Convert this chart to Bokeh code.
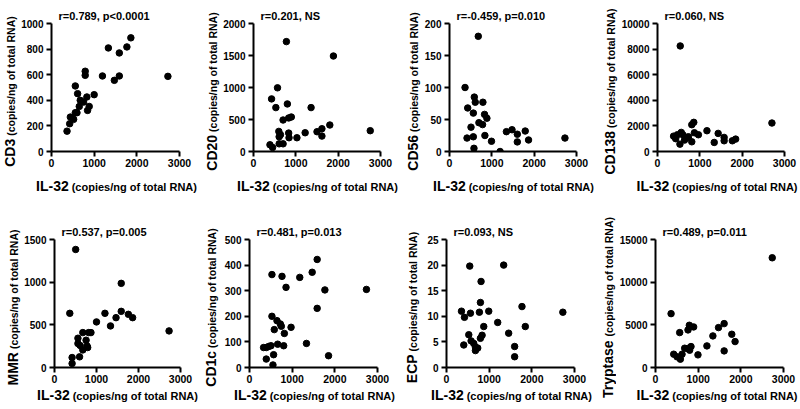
import math
from bokeh.plotting import figure
from bokeh.models import Range1d, FixedTicker
from bokeh.core.properties import value
from bokeh.layouts import column, row
from bokeh.embed import file_html
from bokeh.resources import INLINE

FONT = "Liberation Sans"

# ---------------- data ----------------
x_ticks = [0, 1000, 2000, 3000]
x_big = "IL-32"
unit_text = "(copies/ng of total RNA)"

cd3_x = [364, 426, 442, 519, 558, 597, 558, 612, 674, 651, 752, 790, 790, 829, 845, 884, 1000, 1194, 1333, 1473, 1589, 1589, 1767, 1860, 2728]
cd3_y = [159, 217, 269, 251, 303, 303, 512, 452, 400, 352, 386, 627, 595, 426, 321, 352, 444, 590, 809, 556, 770, 590, 817, 888, 587]

cd20_x = [389, 451, 427, 528, 567, 777, 800, 699, 831, 893, 598, 606, 637, 606, 699, 831, 839, 1026, 1220, 1360, 1500, 1616, 1616, 1803, 1888, 2758]
cd20_y = [105, 63, 822, 686, 995, 1717, 743, 492, 524, 539, 314, 230, 262, 120, 120, 288, 215, 215, 293, 686, 309, 356, 241, 414, 1492, 325]

cd56_x = [367, 430, 414, 508, 563, 563, 578, 586, 609, 680, 695, 781, 789, 836, 828, 883, 992, 1195, 1344, 1477, 1602, 1602, 1789, 1867, 2727]
cd56_y = [100, 68, 21, 38, 23, 60, 5, 85, 77, 180, 45, 42, 77, 25, 58, 52, 16, 0, 31, 34, 27, 15, 32, 18, 21]

cd138_x = [380, 430, 470, 530, 561, 600, 639, 700, 732, 810, 810, 857, 872, 966, 1168, 1340, 1433, 1574, 1574, 1768, 1846, 2703, 537]
cd138_y = [1200, 1000, 1309, 576, 1492, 1300, 890, 1100, 1152, 2094, 759, 2278, 1466, 1309, 1623, 707, 1414, 1100, 838, 838, 969, 2225, 8247]

mmr_x = [364, 504, 419, 419, 558, 558, 597, 674, 674, 752, 775, 790, 814, 868, 1000, 1201, 1333, 1465, 1589, 1589, 1759, 1860, 2728, 612]
mmr_y = [635, 1383, 117, 47, 343, 281, 125, 409, 206, 320, 253, 234, 409, 409, 534, 635, 487, 584, 986, 658, 623, 584, 429, 257]

cd1c_x = [330, 393, 448, 503, 393, 526, 526, 565, 550, 581, 644, 660, 723, 746, 762, 801, 817, 856, 974, 1178, 1335, 1469, 1586, 1586, 1767, 1853, 2741]
cd1c_y = [78, 78, 82, 85, 33, 363, 200, 50, 10, 148, 183, 91, 170, 161, 356, 85, 133, 313, 157, 352, 94, 372, 422, 231, 303, 46, 305]

ecp_x = [351, 421, 405, 545, 561, 522, 577, 639, 678, 678, 732, 771, 795, 810, 795, 834, 873, 990, 1200, 1340, 1457, 1597, 1597, 1769, 1847, 2727]
ecp_y = [11.0, 9.8, 4.4, 19.8, 10.6, 6.4, 5.2, 4.7, 4.0, 3.3, 3.8, 10.8, 12.7, 16.8, 5.7, 6.3, 8.0, 11.0, 8.8, 20.0, 6.7, 4.1, 2.1, 11.9, 8.0, 10.8]

tryp_x = [365, 427, 505, 567, 583, 622, 684, 754, 762, 793, 800, 832, 894, 995, 1205, 1345, 1477, 1609, 1609, 1788, 1865, 2736]
tryp_y = [6312, 1558, 1247, 4091, 974, 1558, 2260, 2221, 4403, 4948, 2026, 2454, 4753, 1480, 2532, 3701, 4675, 5143, 1948, 3896, 3039, 12857]

names = ["CD3", "CD20", "CD56", "CD138", "MMR", "CD1c", "ECP", "Tryptase"]
titles = ["r=0.789,  p<0.0001", "r=0.201,  NS", "r=-0.459,  p=0.010", "r=0.060,  NS",
          "r=0.537,  p=0.005", "r=0.481,  p=0.013", "r=0.093,  NS", "r=0.489,  p=0.011"]
xs = [cd3_x, cd20_x, cd56_x, cd138_x, mmr_x, cd1c_x, ecp_x, tryp_x]
ys = [cd3_y, cd20_y, cd56_y, cd138_y, mmr_y, cd1c_y, ecp_y, tryp_y]
y_ticks = [[0, 200, 400, 600, 800, 1000], [0, 500, 1000, 1500, 2000], [0, 50, 100, 150, 200],
           [0, 2000, 4000, 6000, 8000, 10000], [0, 500, 1000, 1500], [0, 100, 200, 300, 400, 500],
           [0, 5, 10, 15, 20, 25], [0, 5000, 10000, 15000]]

# ---------------- layout (pixels) ----------------
FW = FH = 128
strip_w = [[18, 20, 19, 19], [21, 19, 19, 19]]   # y-label strip widths
strip_c = [[9, 11, 10, 10], [12, 10, 10, 10]]    # centre line of the rotated label in the strip
main_w = [[182, 182, 178, 180], [179, 182, 177, 182]]
left_b = [[33, 32, 27, 38], [31, 30, 26, 39]]
main_h = [173, 182]
top_b = [23, 34]
xlab_h = [32, 19]
xlab_base = [15, 7]

# Arial-bold advance widths (per 1000 em) for composite label layout
AW = {'C': 722, 'D': 722, 'M': 833, 'R': 722, 'E': 667, 'P': 667, 'T': 611, 'I': 278, 'L': 611,
      '-': 333, 'r': 389, 'y': 556, 'p': 611, 't': 333, 'a': 556, 's': 556, 'e': 556, 'c': 556,
      'o': 611, 'i': 278, '/': 278, 'n': 611, 'g': 611, ' ': 278, 'f': 333, 'l': 278, 'N': 722,
      'A': 722, '(': 333, ')': 333}


def tw(s, fs):
    return sum(AW.get(ch, 556) for ch in s) * fs / 1000.0


MID = 0.35   # baseline -> em-box middle, in em
BIG = 14
SMALL_X = 11
SMALL_Y = 10.5
GAP = 3


def no_align(f):
    try:
        f.frame_align = False
    except Exception:
        pass


def style_axis(ax, fs):
    ax.axis_line_width = 2
    ax.axis_line_color = "black"
    ax.major_tick_line_width = 2
    ax.major_tick_line_color = "black"
    ax.major_tick_out = 5
    ax.major_tick_in = 0
    ax.minor_tick_line_color = None
    ax.major_label_text_font = FONT
    ax.major_label_text_font_style = "bold"
    ax.major_label_text_font_size = fs
    ax.major_label_text_color = "black"


def text_fig(w, h):
    f = figure(width=w, height=h, output_backend="svg", toolbar_location=None, title=None,
               x_range=Range1d(0, w), y_range=Range1d(0, h),
               x_axis_location=None, y_axis_location=None, min_border=0)
    f.outline_line_color = None
    f.grid.visible = False
    no_align(f)
    return f


def put(f, x, y, txt, fs, angle=0.0):
    f.text(x=[x], y=[y], text=[txt], angle=angle, text_font=value(FONT), text_font_style="bold",
           text_font_size=f"{fs}px", text_color="black", text_align="left",
           text_baseline="middle")


rows = []
for r in range(2):
    panels = []
    for c in range(4):
        i = r * 4 + c
        yt = y_ticks[i]
        W = main_w[r][c]
        lb = left_b[r][c]
        p = figure(width=W, height=main_h[r], output_backend="svg", toolbar_location=None,
                   x_range=Range1d(0, 3000), y_range=Range1d(0, yt[-1]),
                   min_border_left=lb, min_border_right=W - lb - FW,
                   min_border_top=top_b[r], min_border_bottom=main_h[r] - top_b[r] - FH)
        no_align(p)
        p.outline_line_color = None
        p.grid.visible = False
        p.xaxis.ticker = FixedTicker(ticks=x_ticks)
        p.yaxis.ticker = FixedTicker(ticks=yt)
        style_axis(p.xaxis[0], "10.5px")
        style_axis(p.yaxis[0], "10px")
        p.xaxis.major_label_standoff = 2
        p.yaxis.major_label_standoff = 3

        p.title.text = titles[i]
        p.title.align = "left"
        p.title.offset = 7
        p.title.standoff = 3
        p.title.text_font = FONT
        p.title.text_font_style = "bold"
        p.title.text_font_size = "11px"
        p.title.text_color = "black"

        p.scatter(xs[i], ys[i], size=6.5, color="black")

        # x label strip below the plot (mixed sizes on one baseline)
        fx = text_fig(W, xlab_h[r])
        wb = tw(x_big, BIG)
        ws = tw(unit_text, SMALL_X)
        total = wb + GAP + ws
        xc = min(lb + FW / 2 + 1, W - total / 2 - 1)
        x0 = xc - total / 2
        base = xlab_base[r]
        put(fx, x0, base + MID * BIG, x_big, BIG)
        put(fx, x0 + wb + GAP, base + MID * SMALL_X, unit_text, SMALL_X)

        # y label strip left of the plot (rotated, mixed sizes)
        H = main_h[r] + xlab_h[r]
        fy = text_fig(strip_w[r][c], H)
        wb = tw(names[i], BIG)
        ws = tw(unit_text, SMALL_Y)
        yc = H - (top_b[r] + FH / 2 + 4)
        y0 = yc - (wb + GAP + ws) / 2
        cx = strip_c[r][c]
        put(fy, cx, y0, names[i], BIG, angle=math.pi / 2)
        put(fy, cx + MID * (BIG - SMALL_Y), y0 + wb + GAP, unit_text, SMALL_Y, angle=math.pi / 2)

        panels.append(row(fy, column(p, fx)))
    rows.append(row(*panels))

layout = column(*rows)
open("out.html", "w").write(file_html(layout, INLINE))
